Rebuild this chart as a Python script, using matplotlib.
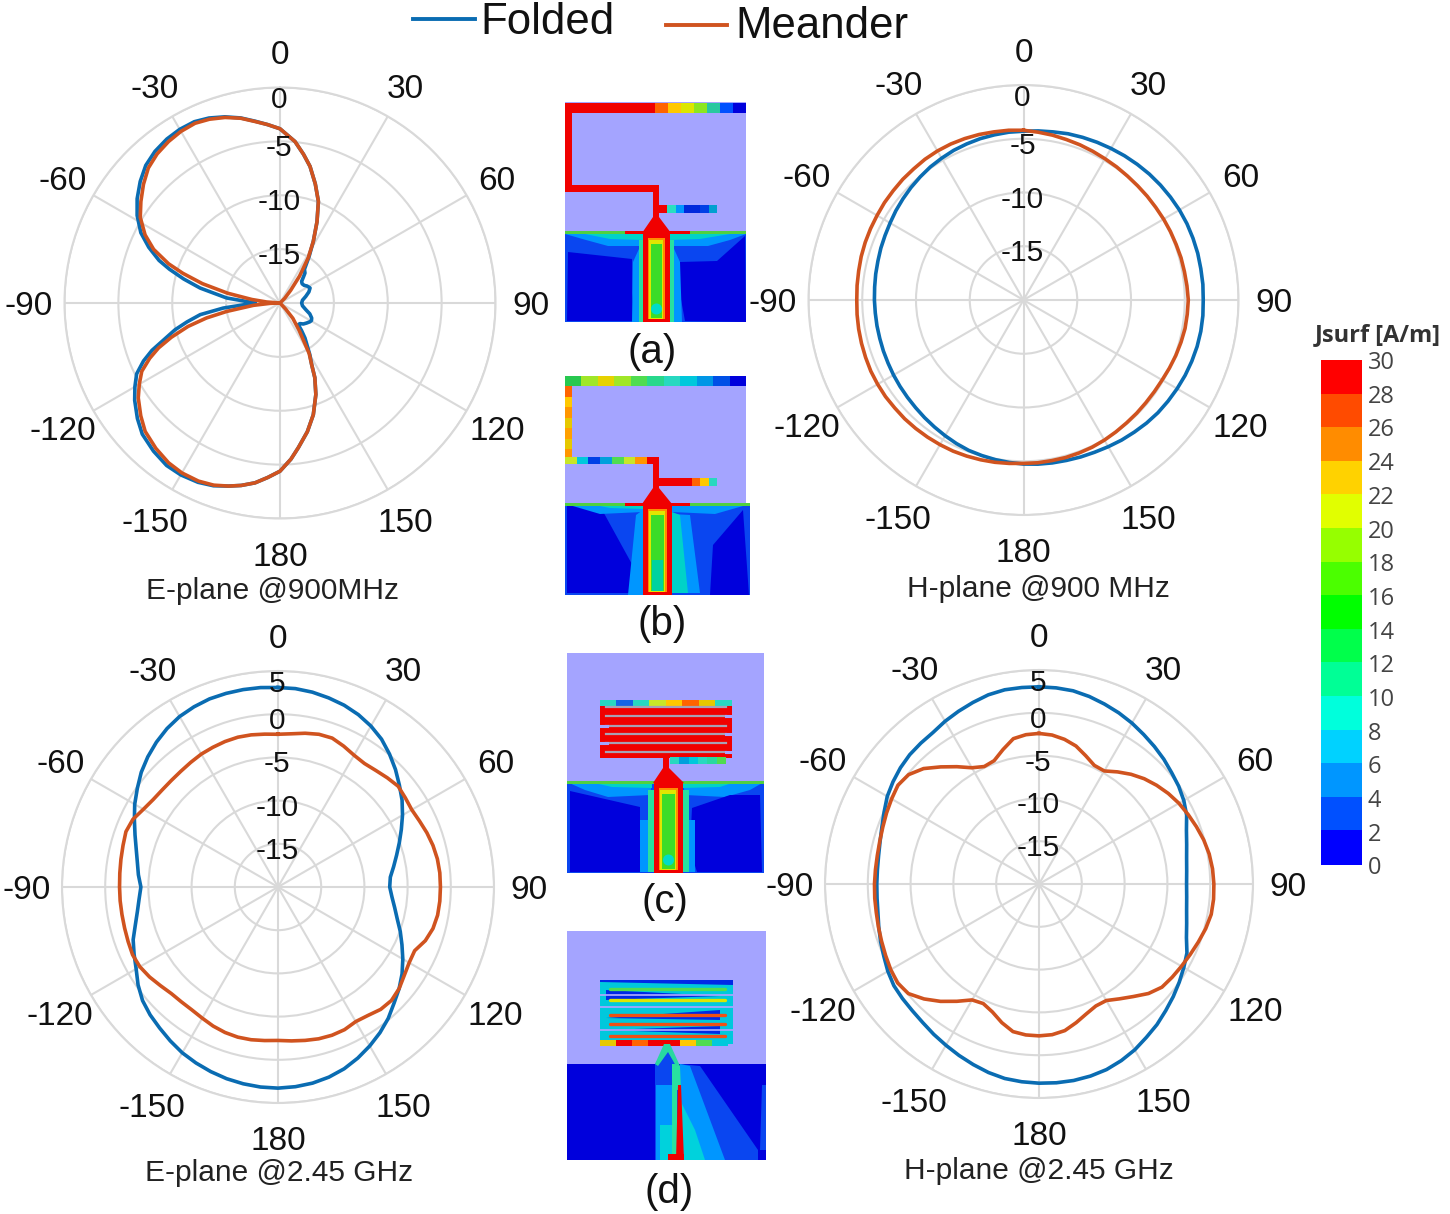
import numpy as np
import matplotlib
matplotlib.use('Agg')
from matplotlib import pyplot as plt
from matplotlib.patches import Rectangle

plt.rcParams['font.family'] = ['Liberation Sans', 'DejaVu Sans']

# angle grids in degrees, clockwise from the top of each polar plot
angles_5deg = list(range(0, 365, 5))
ring_angles = [0, 30, 60, 90, 120, 150, 180, -150, -120, -90, -60, -30]

e900_folded_angles = [-90, -84.6, -79.4, -76, -73, -70.6, -67, -63.2, -58.5, -53.9, -49, -44.3, -39.5, -34.6, -30, -25.3,
                      -21, -16.5, -12, -7.8, -4, 0, 5.3, 9, 12.4, 16.5, 20.7, 24.5, 28.4, 32, 36, 39.8, 42, 45, 49, 54, 58,
                      63.4, 69, 75.6, 83, 90, 97, 104.4, 110, 115.3, 119, 122, 127, 132, 136, 139.8, 142, 144.5, 150,
                      152.8, 155, 158.6, 163.4, 168, 172.8, 176, 180, 184, 187.9, 192, 195.7, 200, 204.6, 210, 214.9,
                      220.5, 226.4, 231, 236.2, 240, 243.7, 247, 249.7, 252.5, 255.7, 258.5, 261.7, 264.9, 270]
e900_folded = [-17.68, -15.02, -12.46, -10.79, -9.27, -8.10, -6.77, -5.53, -4.45, -3.59, -2.81, -2.16, -1.76, -1.51, -1.39,
               -1.39, -1.61, -1.98, -2.44, -2.97, -3.40, -3.83, -4.95, -6.03, -7.02, -8.47, -9.92, -11.72, -13.50, -14.90,
               -16.14, -16.38, -16.75, -17.16, -17.28, -17.22, -17.03, -16.88, -17.13, -17.53, -17.90, -17.99, -17.90,
               -17.53, -17.06, -16.75, -16.66, -16.72, -16.91, -17.09, -17.34, -17.37, -16.75, -16.01, -14.47, -13.57,
               -12.35, -10.88, -9.18, -7.79, -6.46, -5.47, -4.39, -3.77, -3.15, -2.69, -2.35, -1.95, -1.70, -1.58, -1.61,
               -1.92, -2.35, -2.97, -3.77, -4.45, -5.16, -6.24, -7.33, -8.72, -9.95, -11.19, -12.52, -14.71, -17.68]
e900_meander_angles = [-90, -85.7, -82.9, -79.4, -76, -73, -70.6, -67, -63.2, -58.5, -53.9, -49, -44.3, -39.5, -34.6, -30,
                       -25.3, -21, -16.5, -12, -7.8, -4, 0, 5.3, 9, 12.4, 16.5, 20.7, 24.5, 28.4, 32, 36, 40, 45, 50, 130,
                       137, 140, 145, 148, 150, 152.8, 155, 158.6, 163.4, 168, 172.8, 176, 180, 184, 187.9, 192, 195.7,
                       200, 204.6, 210, 214.9, 220.5, 226.4, 231, 236.2, 240, 243.7, 247, 249.7, 252.5, 255.7, 258.5, 261,
                       265, 268, 270]
e900_meander = [-20, -18.76, -17.37, -15.05, -12.58, -10.57, -9.03, -7.26, -5.97, -4.79, -4.02, -3.21, -2.50, -2.07, -1.79,
                -1.61, -1.55, -1.73, -2.04, -2.47, -3.00, -3.40, -3.83, -4.95, -6.03, -7.02, -8.47, -9.92, -11.72, -13.50,
                -15.05, -16.91, -18.45, -19.38, -20, -20, -19.23, -18.15, -16.91, -15.83, -14.59, -13.57, -12.35, -10.88,
                -9.18, -7.79, -6.46, -5.47, -4.39, -3.77, -3.15, -2.69, -2.35, -2.01, -1.82, -1.79, -1.92, -2.26, -2.72,
                -3.37, -4.17, -4.92, -5.69, -6.86, -7.98, -9.43, -11.19, -13.04, -14.99, -17.53, -19.07, -20]

h900_folded = [-4.30, -4.21, -4.12, -3.99, -3.90, -3.81, -3.72, -3.62, -3.53, -3.44, -3.37, -3.31, -3.25, -3.22, -3.22, -3.22,
               -3.25, -3.25, -3.28, -3.25, -3.25, -3.28, -3.34, -3.41, -3.50, -3.59, -3.68, -3.81, -3.96, -4.09, -4.24,
               -4.37, -4.46, -4.55, -4.61, -4.67, -4.74, -4.83, -4.92, -5.02, -5.11, -5.26, -5.42, -5.57, -5.70, -5.82,
               -5.91, -5.98, -6.04, -6.10, -6.13, -6.16, -6.16, -6.16, -6.13, -6.10, -6.04, -5.98, -5.88, -5.79, -5.67,
               -5.51, -5.36, -5.20, -5.05, -4.89, -4.77, -4.64, -4.55, -4.46, -4.40, -4.33, -4.30]
h900_meander = [-4.21, -4.33, -4.43, -4.55, -4.64, -4.74, -4.83, -4.89, -4.95, -4.98, -4.98, -4.98, -4.95, -4.92, -4.89, -4.83,
                -4.80, -4.74, -4.67, -4.71, -4.74, -4.83, -4.92, -5.02, -5.11, -5.14, -5.14, -5.11, -5.08, -5.02, -4.95,
                -4.89, -4.86, -4.83, -4.83, -4.80, -4.80, -4.74, -4.67, -4.61, -4.55, -4.49, -4.46, -4.43, -4.40, -4.37,
                -4.37, -4.33, -4.33, -4.33, -4.37, -4.40, -4.43, -4.46, -4.49, -4.46, -4.43, -4.37, -4.33, -4.30, -4.27,
                -4.21, -4.18, -4.12, -4.09, -4.02, -3.99, -3.99, -4.02, -4.06, -4.12, -4.15, -4.21]

e245_folded = [3.09, 3.05, 2.90, 2.66, 2.39, 2.01, 1.51, 0.89, 0.08, -0.77, -1.66, -2.47, -3.36, -4.25, -5.06, -5.79, -6.41,
               -6.95, -7.07, -6.76, -6.29, -5.71, -4.94, -4.17, -3.32, -2.47, -1.70, -1.00, -0.15, 0.58, 1.24, 1.85, 2.39,
               2.78, 3.05, 3.20, 3.28, 3.24, 3.13, 2.97, 2.74, 2.47, 2.16, 1.74, 1.31, 0.93, 0.46, -0.23, -1.04, -1.62,
               -2.16, -2.90, -3.47, -3.86, -4.13, -3.78, -3.47, -3.01, -2.39, -1.66, -0.85, -0.12, 0.66, 1.31, 1.89, 2.39,
               2.78, 3.01, 3.17, 3.20, 3.20, 3.17, 3.09]
e245_meander = [-2.32, -2.20, -1.93, -1.70, -1.66, -2.01, -2.39, -2.55, -2.39, -2.12, -1.85, -2.01, -2.12, -1.93, -1.66,
                -1.43, -1.27, -1.20, -1.20, -1.20, -1.24, -1.43, -1.85, -2.55, -2.47, -2.16, -1.70, -1.43, -1.51, -1.85,
                -2.01, -1.78, -1.74, -1.81, -1.97, -2.12, -2.24, -2.16, -2.05, -2.01, -2.08, -2.24, -2.47, -2.63, -2.63,
                -2.55, -2.24, -1.85, -1.54, -1.43, -1.54, -1.62, -1.66, -1.66, -1.66, -1.62, -1.54, -1.43, -1.27, -1.47,
                -2.01, -2.36, -2.51, -2.55, -2.51, -2.39, -2.24, -2.16, -2.08, -2.05, -2.12, -2.24, -2.32]

h245_folded = [3.04, 3.00, 2.92, 2.68, 2.37, 2.06, 1.71, 1.32, 0.97, 0.62, 0.23, -0.08, -0.47, -0.97, -1.67, -2.14, -2.49,
               -2.68, -2.76, -2.68, -2.49, -2.14, -1.67, -0.93, -0.47, 0, 0.47, 0.93, 1.44, 1.87, 2.37, 2.76, 3.07, 3.23,
               3.31, 3.31, 3.27, 3.19, 3.07, 2.80, 2.45, 2.10, 1.75, 1.44, 1.13, 0.93, 0.82, 0.70, 0.39, 0, -0.31, -0.62,
               -0.89, -1.01, -1.05, -1.05, -0.97, -0.78, -0.47, -0.04, 0.47, 0.82, 1.13, 1.36, 1.48, 1.60, 1.95, 2.26, 2.57,
               2.88, 3.04, 3.04, 3.04]
h245_meander = [-2.41, -2.53, -2.84, -3.31, -4.05, -4.71, -4.75, -4.01, -3.27, -2.61, -2.06, -1.56, -1.13, -0.78, -0.43,
                -0.08, 0.19, 0.35, 0.43, 0.47, 0.43, 0.16, -0.19, -0.51, -0.78, -1.01, -1.25, -1.91, -2.84, -3.62, -4.28,
                -4.28, -3.85, -3.23, -2.61, -2.33, -2.26, -2.30, -2.49, -3.23, -4.09, -4.59, -4.36, -3.27, -2.10, -1.01,
                -0.08, 0.16, 0, -0.23, -0.43, -0.58, -0.70, -0.74, -0.78, -0.82, -0.82, -0.74, -0.58, -0.35, -0.12, 0.12,
                -0.12, -0.93, -2.14, -3.27, -4.32, -4.86, -4.67, -3.74, -2.76, -2.49, -2.41]

rings_900 = [-15, -10, -5, 0]
rings_245 = [-15, -10, -5, 0, 5]

scale_values = [30, 28, 26, 24, 22, 20, 18, 16, 14, 12, 10, 8, 6, 4, 2, 0]
scale_colors = ['#ff0000', '#ff4b00', '#ff8c00', '#ffd200', '#e1ff00', '#96ff00', '#4bff00', '#00ff00',
                '#00ff4b', '#00ff96', '#00ffdc', '#00d2ff', '#0096ff', '#0050ff', '#0000ff']

BLUE = '#0a6cb2'
ORANGE = '#d0531f'
GRID = '#d9d9d9'
LAVENDER = '#a4a4ff'
DARK = '#0000dc'
MID = '#0a46f0'
LIGHT = '#0096ff'
RED = '#f00000'

W, H = 1450, 1214
fig = plt.figure(figsize=(W / 100, H / 100), dpi=100)

# whole-figure axes in picture pixels, for the legend, the current maps and the scale
page = fig.add_axes([0, 0, 1, 1], zorder=0)
page.set_xlim(0, W)
page.set_ylim(H, 0)
page.axis('off')


def polar_panel(cx, cy, radius, rings, title, tx, ty, series):
    ax = fig.add_axes([(cx - radius) / W, 1 - (cy + radius) / H, 2 * radius / W, 2 * radius / H],
                      projection='polar', zorder=2)
    ax.patch.set_alpha(0)
    ax.set_theta_zero_location('N')
    ax.set_theta_direction(-1)
    for angles, values, color in series:
        ax.plot(np.radians(angles), values, color=color, lw=2.6, solid_joinstyle='round')
    ax.set_xticks(np.radians(np.mod(ring_angles, 360)))
    ax.set_xticklabels([str(a) for a in ring_angles], fontsize=24, color='#111111', va='center_baseline')
    ax.set_xlim(0, 2 * np.pi)
    ax.set_ylim(-20, rings[-1])
    ax.set_yticks(rings)
    ax.set_yticklabels([])
    ax.tick_params(axis='x', pad=15)
    ax.grid(True, color=GRID, lw=1.5)
    ax.spines['polar'].set_color(GRID)
    ax.spines['polar'].set_linewidth(1.5)
    for ring in rings:
        offset = -13 if ring == rings[-1] else -7
        ax.annotate(str(ring), (0, ring), xytext=(-1, offset), textcoords='offset pixels', ha='center', va='center',
                    fontsize=21.5, color='#111111', annotation_clip=False, zorder=5)
    page.text(tx, ty, title, ha='center', va='center', fontsize=21.5, color='#222222')
    return ax


polar_panel(280, 303, 215.5, rings_900, 'E-plane @900MHz', 273, 591,
            [(e900_folded_angles, e900_folded, BLUE), (e900_meander_angles, e900_meander, ORANGE)])
polar_panel(1023.5, 300, 215, rings_900, 'H-plane @900 MHz', 1038, 589,
            [(angles_5deg, h900_folded, BLUE), (angles_5deg, h900_meander, ORANGE)])
polar_panel(278, 887, 216, rings_245, 'E-plane @2.45 GHz', 279, 1173,
            [(angles_5deg, e245_folded, BLUE), (angles_5deg, e245_meander, ORANGE)])
polar_panel(1039, 884, 214, rings_245, 'H-plane @2.45 GHz', 1039, 1171,
            [(angles_5deg, h245_folded, BLUE), (angles_5deg, h245_meander, ORANGE)])

# legend
page.plot([413, 475], [19, 19], color=BLUE, lw=2.8)
page.text(480, 22, 'Folded', fontsize=31.5, va='center', ha='left', color='#111111')
page.plot([666, 727], [24.5, 24.5], color=ORANGE, lw=2.8)
page.text(735, 26, 'Meander', fontsize=31.5, va='center', ha='left', color='#111111')


def box(x0, y0, x1, y1, color):
    page.add_patch(Rectangle((x0, y0), x1 - x0, y1 - y0, facecolor=color, edgecolor='none'))


def poly(points, color):
    page.fill([p[0] for p in points], [p[1] for p in points], color=color, lw=0)


def strip(x0, y0, x1, y1, colors, vertical=False):
    # a strip cut in equal pieces, one colour each
    n = len(colors)
    for i, c in enumerate(colors):
        if vertical:
            box(x0, y0 + (y1 - y0) * i / n, x1, y0 + (y1 - y0) * (i + 1) / n, c)
        else:
            box(x0 + (x1 - x0) * i / n, y0, x0 + (x1 - x0) * (i + 1) / n, y1, c)


def feed_line(x0, x1, y0, y1, bottom_blob=True):
    box(x0, y0, x1, y1, RED)
    xm = (x0 + x1) / 2
    box(x0 + 5, y0 + 6, x1 - 5, y1 - 3, '#ff8c00')
    box(x0 + 6.5, y0 + 8, x1 - 6.5, y1 - 3, '#e1e600')
    box(x0 + 8, y0 + 12, x1 - 8, y1 - 4, '#3cdc28')
    if bottom_blob:
        page.add_patch(plt.Circle((xm, y1 - 13), 5.5, color='#00dcc8', lw=0))
        box(x0 + 5, y1 - 3, x1 - 5, y1, RED)


# (a)
box(565, 102, 746, 232, LAVENDER)
box(565, 232, 746, 322, MID)
poly([(565, 234), (643, 234), (640, 246), (608, 246), (586, 240)], LIGHT)
poly([(746, 234), (670, 234), (672, 246), (708, 246), (730, 240)], LIGHT)
poly([(585, 234), (643, 234), (643, 240), (610, 239)], '#00d2c8')
poly([(730, 234), (670, 234), (670, 240), (700, 239)], '#00d2c8')
box(565, 231, 746, 233.5, '#50d040')
box(625, 231, 690, 233.5, RED)
poly([(568, 252), (632, 259), (632, 293), (635, 321), (567, 321)], DARK)
poly([(680, 262), (717, 261), (745, 236), (746, 322), (685, 321), (678, 283)], DARK)
poly([(633, 262), (643, 240), (643, 322), (632, 322)], LIGHT)
poly([(680, 262), (670, 240), (670, 322), (682, 322)], LIGHT)
box(639, 240, 643, 322, '#28e0a0')
box(670, 240, 674, 322, '#28e0a0')
feed_line(643, 670, 232, 322)
strip(565, 103, 746, 113, [RED] * 7 + ['#ff6400', '#ffc800', '#dce600', '#8ce620', '#28c8a0', '#0050ff', '#0000dc'])
box(565, 103, 572, 192, RED)
box(565, 185, 659, 192, RED)
box(653, 185, 659, 222, RED)
poly([(653, 217), (659, 217), (671, 233), (642, 233)], RED)
box(659, 205, 717, 213, '#0050e6')
strip(659, 205, 717, 213, [RED, '#28e0c0', '#0096ff', '#0028dc', '#0028dc', '#0040e6', '#00a0d0'])

# (b)
box(565, 376, 746, 503, LAVENDER)
box(565, 503, 750, 595, MID)
poly([(567, 505), (600, 506), (633, 566), (633, 593), (567, 593)], DARK)
poly([(713, 545), (743, 510), (749, 595), (710, 595)], DARK)
poly([(672, 514), (690, 515), (700, 593), (674, 593)], LIGHT)
poly([(672, 512), (680, 515), (688, 593), (672, 593)], '#00d2c8')
poly([(636, 515), (643, 510), (643, 595), (628, 595)], LIGHT)
poly([(566, 504), (643, 504), (643, 512), (600, 514)], LIGHT)
poly([(750, 504), (672, 504), (672, 512), (715, 514)], LIGHT)
poly([(590, 504), (643, 504), (643, 509), (610, 508)], '#00d2c8')
box(565, 503, 750, 505.5, '#50d040')
box(625, 503, 690, 505.5, RED)
feed_line(643, 672, 503, 595, bottom_blob=False)
box(652, 560, 663, 591, '#00d2a0')
strip(565, 376, 746, 386, ['#28c850', '#a0e628', '#e6d200', '#a0e628', '#50dc50', '#28d88c', '#28d8c0', '#00c8dc', '#0096e6',
                           '#0050e6', '#0000dc'])
strip(565, 386, 572, 460, ['#ff6400', '#ffc800', '#ff9600', '#e6c800', '#ffa000', '#e6c800', '#ff9600'], vertical=True)
strip(565, 457, 659, 464, ['#c8e628', '#00c8dc', '#0040e6', '#00a0dc', '#50dc50', '#c8e628', '#ff9600', RED])
box(653, 460, 659, 490, RED)
poly([(653, 488), (659, 488), (672, 504), (642, 504)], RED)
strip(659, 478, 717, 486, [RED, RED, RED, RED, '#ff6400', '#ffc800', '#28d8c0'])

# (c)
box(567, 653, 764, 782, LAVENDER)
box(567, 782, 764, 873, MID)
poly([(567, 782), (652, 782), (650, 795), (608, 797), (585, 790)], LIGHT)
poly([(764, 782), (683, 782), (685, 795), (725, 797), (750, 790)], LIGHT)
poly([(590, 782), (652, 782), (652, 788), (612, 787)], '#00d2c8')
poly([(735, 782), (683, 782), (683, 788), (720, 787)], '#00d2c8')
box(567, 781, 764, 783.5, '#50d040')
poly([(570, 791), (640, 807), (640, 850), (648, 872), (570, 872)], DARK)
poly([(692, 808), (730, 795), (760, 795), (762, 872), (697, 872), (690, 850)], DARK)
box(640, 820, 654, 872, LIGHT)
box(683, 820, 695, 872, LIGHT)
box(648, 790, 654, 872, '#28e0a0')
box(683, 790, 689, 872, '#28e0a0')
feed_line(654, 683, 782, 873)
box(600, 706, 732, 758, RED)
strip(600, 700, 732, 706, ['#28d8c0', '#1464e6', '#28d8c0', '#c8e628', '#ffc800', '#ff6400', '#e6c800', '#28d8c0'])
for slit_y in [707, 716, 725.5, 734, 743, 752]:
    page.plot([606, 726], [slit_y, slit_y], color='#a8a0b4', lw=1.6)
for slit_y, x0, x1 in [(725.5, 600, 607), (743, 600, 607), (716, 726, 732), (734, 726, 732), (752, 726, 732)]:
    page.plot([x0, x1], [slit_y, slit_y], color=LAVENDER, lw=2.2)
box(663, 756, 669, 770, RED)
strip(670, 757, 726, 764, ['#28d8c0', '#00a0dc', '#00c8dc', '#28d8c0', '#28d8a0', '#50dc50'])
poly([(663, 768), (669, 768), (684, 783), (653, 783)], RED)

# (d)
box(567, 931, 766, 1064, LAVENDER)
box(567, 1064, 655, 1160, DARK)
box(655, 1064, 766, 1160, DARK)
poly([(680, 1064), (700, 1066), (758, 1150), (758, 1160), (680, 1160)], MID)
poly([(762, 1085), (766, 1085), (766, 1150), (760, 1150)], MID)
poly([(680, 1064), (690, 1066), (725, 1160), (680, 1160)], LIGHT)
poly([(680, 1100), (695, 1130), (705, 1160), (680, 1160)], '#00d2dc')
poly([(655, 1064), (669, 1044), (678, 1064), (680, 1160), (655, 1160)], MID)
box(656, 1085, 672, 1160, LIGHT)
box(660, 1125, 674, 1160, '#00d2dc')
box(672, 1064, 677, 1160, '#28e0a0')
poly([(676, 1066), (680, 1066), (681, 1090), (677, 1090)], '#28e0a0')
poly([(678, 1085), (681, 1085), (684, 1160), (676, 1160)], RED)
box(668, 1154, 684, 1160, RED)
box(600, 980, 733, 1044, '#00c8dc')
for points in [[(600, 982), (733, 985), (733, 980), (600, 980)], [(606, 1000), (720, 996), (606, 990)],
               [(606, 1018), (720, 1010), (720, 1020)], [(606, 1030), (720, 1026), (720, 1034)]]:
    poly(points, '#0028e6')
for row_y, color in [(989, '#50dc50'), (1000, '#dce600'), (1015, '#f05014'), (1024, '#f05014'), (1036, '#f05014')]:
    page.plot([610, 725], [row_y, row_y], color=color, lw=2.4, solid_capstyle='round')
for sep_y in [995, 1006.5, 1030]:
    page.plot([600, 733], [sep_y, sep_y], color=LAVENDER, lw=1.3)
strip(600, 1040, 728, 1046, ['#e6c800', RED, '#ff6400', RED, RED, '#ffc800', '#50dc50', '#00c8dc'])
poly([(664, 1044), (670, 1044), (680, 1066), (676, 1066), (668, 1052), (658, 1066), (655, 1064)], '#28d8a0')

for label, x, y in [('(a)', 652, 352), ('(b)', 662, 624), ('(c)', 665, 902), ('(d)', 669, 1192)]:
    page.text(x, y, label, ha='center', va='center', fontsize=29, color='#111111')

# current density scale
bar_left, bar_right, bar_top, bar_bottom = 1321, 1362, 360, 864
band = (bar_bottom - bar_top) / len(scale_colors)
for i, c in enumerate(scale_colors):
    box(bar_left, bar_top + i * band, bar_right, bar_top + (i + 1) * band + 0.5, c)
for i, v in enumerate(scale_values):
    page.text(1368, 363 + i * 33.7, str(v), ha='left', va='center', fontsize=17, color='#444444',
              family=['Open Sans', 'DejaVu Sans'])
page.text(1378, 335, 'Jsurf [A/m]', ha='center', va='center', fontsize=17, fontweight='bold', color='#333333',
          family=['Open Sans', 'DejaVu Sans'])

fig.savefig('out.png', dpi=100, facecolor='white')
